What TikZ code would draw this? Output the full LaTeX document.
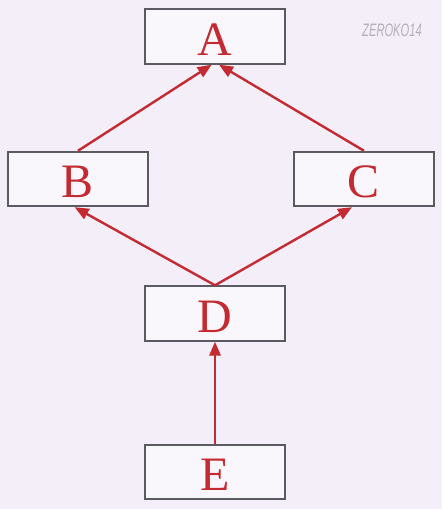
\documentclass[tikz,border=0pt]{standalone}
\usepackage{xcolor}
\usepackage{fontspec}
\setmainfont{Liberation Serif}
\newfontfamily\markfont{Liberation Sans}[FakeStretch=0.62]
\usetikzlibrary{arrows.meta}
\definecolor{hierBack}{HTML}{F4EEF9}
\definecolor{hierFill}{HTML}{F9F6FC}
\definecolor{hierLine}{HTML}{5B5A62}
\definecolor{hierRed}{HTML}{C42A31}
\definecolor{hierMark}{HTML}{B3B0B8}
\tikzset{
  box/.style={draw=hierLine, line width=1.3pt, fill=hierFill, minimum width=105pt, minimum height=41pt, inner sep=0pt,
    text=hierRed, font=\fontsize{36}{36}\selectfont, text height=28pt, text depth=0pt},
  arrow/.style={-{Triangle[length=10.5pt,width=8.5pt]}, draw=hierRed, line width=1.8pt},
  signText/.style={text=hierMark, font=\markfont\itshape\fontsize{13.5}{13.5}\selectfont}
}
\begin{document}
\begin{tikzpicture}[x=0.75pt, y=-0.75pt]
  \fill[hierBack] (0,0) rectangle (442,509);
  \useasboundingbox (0,0) rectangle (442,509);
  \node[signText] (sig) at (392,30) {ZEROKO14};
  % boxes
  \node[box] (A) at (215,36.5) {A};
  \node[box] (B) at (78,179) {B};
  \node[box] (C) at (364,179) {C};
  \node[box] (D) at (215,313.5) {D};
  \node[box] (E) at (215,472) {E};
  % arrows
  \draw[arrow] (B.north) -- ([xshift=-2.5pt]A.south);
  \draw[arrow] (C.north) -- ([xshift=3pt]A.south);
  \draw[arrow] (D.north) -- ([xshift=-2.5pt]B.south);
  \draw[arrow] (D.north) -- ([xshift=-9pt]C.south);
  \draw[arrow] (E.north) -- (D.south);
\end{tikzpicture}
\end{document}
